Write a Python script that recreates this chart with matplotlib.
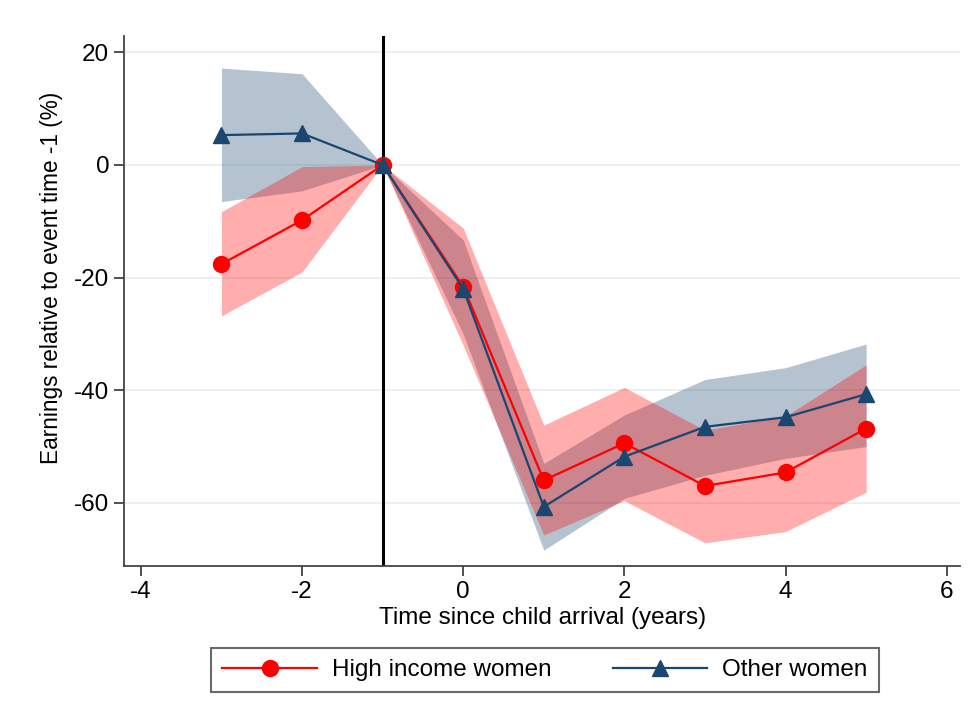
import matplotlib
matplotlib.use("Agg")
import matplotlib.pyplot as plt
from matplotlib.lines import Line2D

plt.rcParams['font.family'] = ['Liberation Sans', 'DejaVu Sans']

t = [-3, -2, -1, 0, 1, 2, 3, 4, 5]
high = [-17.6, -9.8, 0, -21.6, -56.0, -49.4, -57.0, -54.6, -46.8]
high_lo = [-26.8, -19.0, 0, -32.0, -65.7, -59.6, -67.1, -65.1, -58.1]
high_hi = [-8.3, -0.3, 0, -11.2, -46.2, -39.5, -47.1, -44.6, -35.5]
other = [5.3, 5.6, 0, -22.0, -60.7, -51.8, -46.5, -44.8, -40.7]
other_lo = [-6.5, -4.6, 0, -30.0, -68.4, -59.2, -55.1, -52.1, -50.0]
other_hi = [17.2, 16.2, 0, -13.3, -53.0, -44.4, -38.1, -36.0, -31.8]

xticks = [-4, -2, 0, 2, 4, 6]
yticks = [20, 0, -20, -40, -60]
event = -1

red = '#ff0000'
navy = '#1a476f'

fig = plt.figure(figsize=(9.76, 7.2), dpi=100)
ax = fig.add_axes([0.127, 0.214, 0.857, 0.736])

for y in yticks:
    ax.axhline(y, color='#e4eef0', lw=1.2, zorder=0)

ax.fill_between(t, other_lo, other_hi, color=navy, alpha=0.32, lw=0, zorder=1)
ax.fill_between(t, high_lo, high_hi, color=red, alpha=0.32, lw=0, zorder=1)
ax.axvline(event, color='black', lw=2.2, zorder=2)
ax.plot(t, high, color=red, lw=1.6, marker='o', ms=11.5, zorder=3)
ax.plot(t, other, color=navy, lw=1.6, marker='^', ms=11.5, zorder=4)

ax.set_xlim(-4.21, 6.17)
ax.set_ylim(-71.2, 22.9)
ax.set_xticks(xticks)
ax.set_yticks(yticks)
ax.set_xticklabels([str(v) for v in xticks])
ax.set_yticklabels([str(v) for v in yticks])
ax.tick_params(axis='both', labelsize=17.5, length=7, width=1.2, color='#333333', direction='out')
for s in ['top', 'right']:
    ax.spines[s].set_visible(False)
for s in ['left', 'bottom']:
    ax.spines[s].set_color('#444444')
    ax.spines[s].set_linewidth(1.3)

ax.set_xlabel('Time since child arrival (years)', fontsize=17.5, labelpad=3)
ax.set_ylabel('Earnings relative to event time -1 (%)', fontsize=16.3, labelpad=8)
ax.yaxis.set_label_coords(-0.073, 0.543)

handles = [
    Line2D([0], [0], color=red, lw=1.6, marker='o', ms=11.5),
    Line2D([0], [0], color=navy, lw=1.6, marker='^', ms=11.5),
]
leg = fig.legend(handles, ['High income women', 'Other women'], loc='center',
                 bbox_to_anchor=(0.5585, 0.069), ncol=2, fontsize=17.5,
                 frameon=True, fancybox=False, edgecolor='#444444',
                 handlelength=3.9, handletextpad=0.62, columnspacing=2.5,
                 borderpad=0.45, borderaxespad=0)
leg.get_frame().set_linewidth(1.5)

fig.savefig('out.png', dpi=100, facecolor='white')
